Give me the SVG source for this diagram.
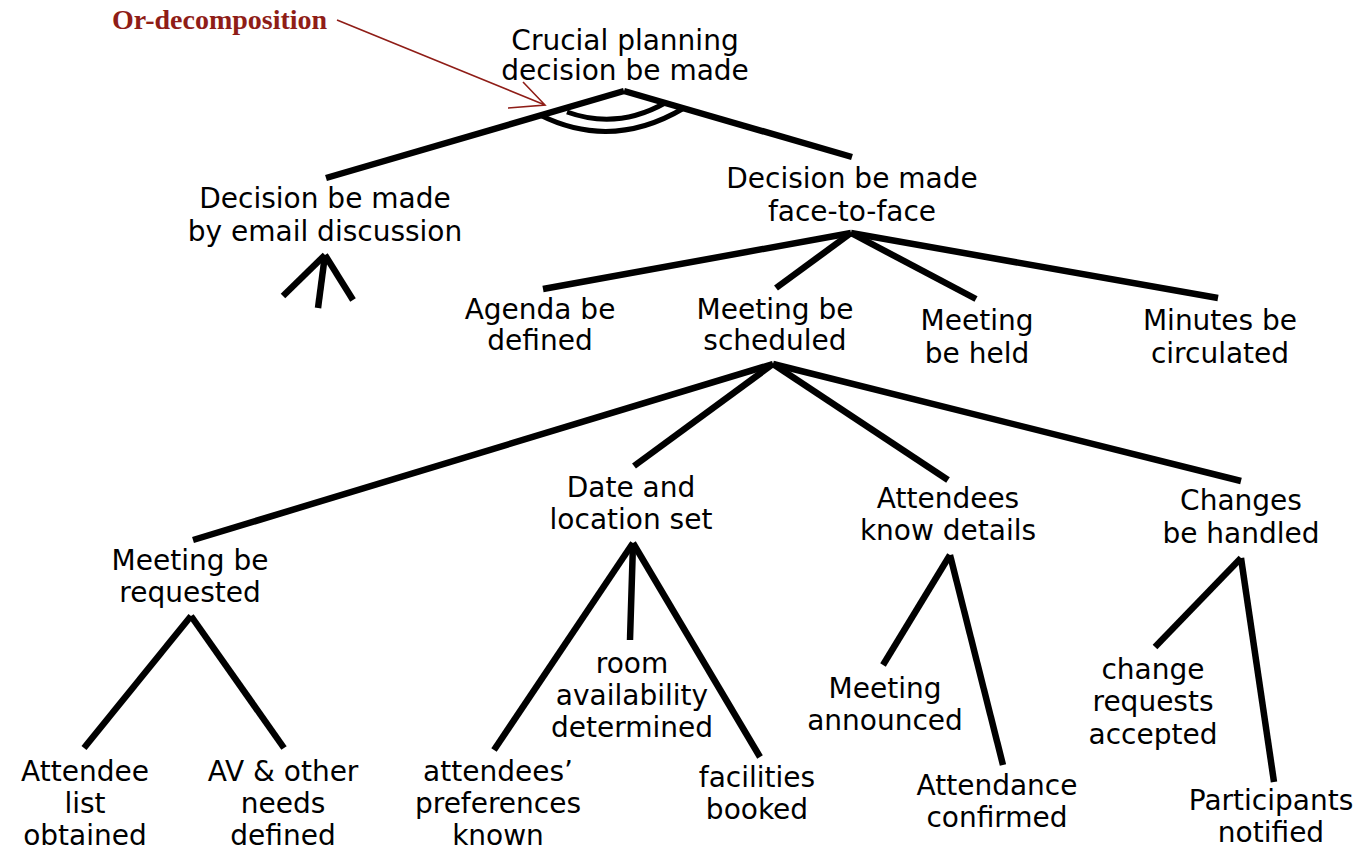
<svg xmlns="http://www.w3.org/2000/svg" width="1367" height="853" viewBox="0 0 1367 853">
<style>
.t{font-family:"DejaVu Sans","Liberation Sans",sans-serif;font-size:28px;fill:#000;text-anchor:middle}
.c line,.c path{stroke:#000;stroke-width:6.5;fill:none}
.arc{stroke-width:5 !important}
.ann{font-family:"Liberation Serif",serif;font-weight:bold;font-size:28px;fill:#8f1d17}
.annl{stroke:#8f1d17;stroke-width:1.6;fill:none}
</style>
<rect width="1367" height="853" fill="#fff"/>
<g id="connectors" class="c">
<line x1="624" y1="91" x2="326" y2="178"/>
<line x1="624" y1="91" x2="852" y2="157"/>
<path class="arc" d="M540,115 Q612,151 684,108"/>
<path class="arc" d="M567,112 Q617,130 665,103"/>
<line x1="325" y1="255" x2="283" y2="296"/>
<line x1="325" y1="255" x2="318" y2="308"/>
<line x1="325" y1="255" x2="353" y2="300"/>
<line x1="851" y1="233" x2="543" y2="289"/>
<line x1="851" y1="233" x2="776" y2="288"/>
<line x1="851" y1="233" x2="976" y2="299"/>
<line x1="851" y1="233" x2="1218" y2="298"/>
<line x1="773" y1="364" x2="193" y2="540"/>
<line x1="773" y1="364" x2="634" y2="466"/>
<line x1="773" y1="364" x2="948" y2="480"/>
<line x1="773" y1="364" x2="1241" y2="481"/>
<line x1="191" y1="616" x2="84" y2="748"/>
<line x1="191" y1="616" x2="284" y2="748"/>
<line x1="633" y1="543" x2="494" y2="750"/>
<line x1="633" y1="543" x2="630" y2="640"/>
<line x1="633" y1="543" x2="760" y2="757"/>
<line x1="950" y1="555" x2="883" y2="665"/>
<line x1="950" y1="555" x2="1003" y2="765"/>
<line x1="1241" y1="558" x2="1155" y2="647"/>
<line x1="1241" y1="558" x2="1274" y2="782"/>
</g>
<g id="annotation">
<text class="ann" x="112" y="29">Or-decomposition</text>
<path class="annl" d="M337,20 L545,105 M508,108 L545,105 L523,82"/>
</g>
<g id="n-root"><text class="t" x="625" y="50">Crucial planning</text><text class="t" x="625" y="80">decision be made</text></g>
<g id="n-email"><text class="t" x="325" y="208">Decision be made</text><text class="t" x="325" y="241">by email discussion</text></g>
<g id="n-f2f"><text class="t" x="852" y="188">Decision be made</text><text class="t" x="852" y="221">face-to-face</text></g>
<g id="n-agenda"><text class="t" x="540" y="319">Agenda be</text><text class="t" x="540" y="350">defined</text></g>
<g id="n-sched"><text class="t" x="775" y="319">Meeting be</text><text class="t" x="775" y="350">scheduled</text></g>
<g id="n-held"><text class="t" x="977" y="330">Meeting</text><text class="t" x="977" y="363">be held</text></g>
<g id="n-minutes"><text class="t" x="1220" y="330">Minutes be</text><text class="t" x="1220" y="363">circulated</text></g>
<g id="n-requested"><text class="t" x="190" y="570">Meeting be</text><text class="t" x="190" y="602">requested</text></g>
<g id="n-date"><text class="t" x="631" y="497">Date and</text><text class="t" x="631" y="529">location set</text></g>
<g id="n-attendees"><text class="t" x="948" y="508">Attendees</text><text class="t" x="948" y="540">know details</text></g>
<g id="n-changes"><text class="t" x="1241" y="510">Changes</text><text class="t" x="1241" y="543">be handled</text></g>
<g id="n-list"><text class="t" x="85" y="781">Attendee</text><text class="t" x="85" y="813">list</text><text class="t" x="85" y="845">obtained</text></g>
<g id="n-av"><text class="t" x="283" y="781">AV &amp; other</text><text class="t" x="283" y="813">needs</text><text class="t" x="283" y="845">defined</text></g>
<g id="n-prefs"><text class="t" x="498" y="781">attendees’</text><text class="t" x="498" y="813">preferences</text><text class="t" x="498" y="845">known</text></g>
<g id="n-room"><text class="t" x="632" y="673">room</text><text class="t" x="632" y="705">availability</text><text class="t" x="632" y="737">determined</text></g>
<g id="n-facilities"><text class="t" x="757" y="787">facilities</text><text class="t" x="757" y="819">booked</text></g>
<g id="n-announced"><text class="t" x="885" y="698">Meeting</text><text class="t" x="885" y="730">announced</text></g>
<g id="n-confirmed"><text class="t" x="997" y="795">Attendance</text><text class="t" x="997" y="827">confirmed</text></g>
<g id="n-accepted"><text class="t" x="1153" y="679">change</text><text class="t" x="1153" y="711">requests</text><text class="t" x="1153" y="744">accepted</text></g>
<g id="n-notified"><text class="t" x="1271" y="810">Participants</text><text class="t" x="1271" y="842">notified</text></g>
</svg>
